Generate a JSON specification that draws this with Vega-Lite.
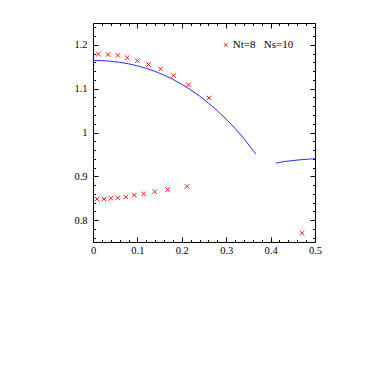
{
  "$schema": "https://vega.github.io/schema/vega-lite/v6.json",
  "width": 222,
  "height": 219,
  "autosize": "none",
  "padding": {"left": 93, "top": 23, "right": 67, "bottom": 140},
  "background": "white",
  "config": {
    "view": {"stroke": "black", "strokeWidth": 1},
    "font": "Liberation Serif",
    "axis": {"title": null, "grid": false, "domain": false, "tickColor": "black", "tickWidth": 1, "labelFlush": false, "labelOverlap": false, "labelFont": "Liberation Serif", "labelFontSize": 10.5, "labelColor": "black"}
  },
  "datasets": {
    "curve": [
      {"x": 0.0, "y": 1.1645, "seg": "a"},
      {"x": 0.02, "y": 1.164, "seg": "a"},
      {"x": 0.04, "y": 1.1627, "seg": "a"},
      {"x": 0.06, "y": 1.1603, "seg": "a"},
      {"x": 0.08, "y": 1.1568, "seg": "a"},
      {"x": 0.10, "y": 1.1522, "seg": "a"},
      {"x": 0.12, "y": 1.1464, "seg": "a"},
      {"x": 0.14, "y": 1.1394, "seg": "a"},
      {"x": 0.16, "y": 1.131, "seg": "a"},
      {"x": 0.18, "y": 1.1213, "seg": "a"},
      {"x": 0.20, "y": 1.1101, "seg": "a"},
      {"x": 0.22, "y": 1.0974, "seg": "a"},
      {"x": 0.24, "y": 1.0832, "seg": "a"},
      {"x": 0.26, "y": 1.0673, "seg": "a"},
      {"x": 0.28, "y": 1.0497, "seg": "a"},
      {"x": 0.30, "y": 1.0304, "seg": "a"},
      {"x": 0.32, "y": 1.0093, "seg": "a"},
      {"x": 0.34, "y": 0.9862, "seg": "a"},
      {"x": 0.3665, "y": 0.951, "seg": "a"},
      {"x": 0.412, "y": 0.930, "seg": "b"},
      {"x": 0.43, "y": 0.9335, "seg": "b"},
      {"x": 0.45, "y": 0.936, "seg": "b"},
      {"x": 0.47, "y": 0.938, "seg": "b"},
      {"x": 0.49, "y": 0.9395, "seg": "b"},
      {"x": 0.5, "y": 0.940, "seg": "b"}
    ],
    "pts": [
      {"x": 0.012, "y": 1.179},
      {"x": 0.034, "y": 1.178},
      {"x": 0.056, "y": 1.176},
      {"x": 0.077, "y": 1.171},
      {"x": 0.100, "y": 1.164},
      {"x": 0.125, "y": 1.155},
      {"x": 0.152, "y": 1.145},
      {"x": 0.181, "y": 1.130},
      {"x": 0.215, "y": 1.109},
      {"x": 0.261, "y": 1.079},
      {"x": 0.009, "y": 0.848},
      {"x": 0.025, "y": 0.848},
      {"x": 0.040, "y": 0.850},
      {"x": 0.056, "y": 0.851},
      {"x": 0.074, "y": 0.853},
      {"x": 0.093, "y": 0.857},
      {"x": 0.114, "y": 0.860},
      {"x": 0.139, "y": 0.865},
      {"x": 0.168, "y": 0.870},
      {"x": 0.212, "y": 0.877},
      {"x": 0.471, "y": 0.770}
    ],
    "key": [
      {"x": 0.299, "y": 1.2, "text": "Nt=8\u00a0\u00a0\u00a0Ns=10"}
    ]
  },
  "layer": [
    {
      "data": {"name": "curve"},
      "mark": {"type": "line", "color": "#1f2fff", "strokeWidth": 1, "clip": true},
      "encoding": {
        "x": {
          "field": "x", "type": "quantitative",
          "scale": {"domain": [0, 0.5], "nice": false, "zero": false},
          "axis": {"orient": "bottom", "values": [0, 0.1, 0.2, 0.3, 0.4, 0.5], "tickSize": -5, "labelPadding": 8, "labelExpr": "format(datum.value, '.1~f')"}
        },
        "y": {
          "field": "y", "type": "quantitative",
          "scale": {"domain": [0.75, 1.25], "nice": false, "zero": false},
          "axis": {"orient": "left", "values": [0.8, 0.9, 1.0, 1.1, 1.2], "tickSize": -5, "labelPadding": 11, "labelExpr": "format(datum.value, '.1~f')"}
        },
        "detail": {"field": "seg", "type": "nominal"}
      }
    },
    {
      "data": {"name": "curve"},
      "mark": {"type": "point", "opacity": 0},
      "encoding": {
        "x": {
          "field": "x", "type": "quantitative",
          "scale": {"domain": [0, 0.5], "nice": false, "zero": false},
          "axis": {"orient": "bottom", "labels": false, "values": [0.02, 0.04, 0.06, 0.08, 0.12, 0.14, 0.16, 0.18, 0.22, 0.24, 0.26, 0.28, 0.32, 0.34, 0.36, 0.38, 0.42, 0.44, 0.46, 0.48], "tickSize": -2.5}
        },
        "y": {
          "field": "y", "type": "quantitative",
          "scale": {"domain": [0.75, 1.25], "nice": false, "zero": false},
          "axis": {"orient": "left", "labels": false, "values": [0.76, 0.78, 0.82, 0.84, 0.86, 0.88, 0.92, 0.94, 0.96, 0.98, 1.02, 1.04, 1.06, 1.08, 1.12, 1.14, 1.16, 1.18, 1.22, 1.24], "tickSize": -2.5}
        }
      }
    },
    {
      "data": {"name": "curve"},
      "mark": {"type": "point", "opacity": 0},
      "encoding": {
        "x": {
          "field": "x", "type": "quantitative",
          "scale": {"domain": [0, 0.5], "nice": false, "zero": false},
          "axis": {"orient": "top", "labels": false, "values": [0.02, 0.04, 0.06, 0.08, 0.12, 0.14, 0.16, 0.18, 0.22, 0.24, 0.26, 0.28, 0.32, 0.34, 0.36, 0.38, 0.42, 0.44, 0.46, 0.48], "tickSize": -2.5}
        },
        "y": {
          "field": "y", "type": "quantitative",
          "scale": {"domain": [0.75, 1.25], "nice": false, "zero": false},
          "axis": {"orient": "right", "labels": false, "values": [0.76, 0.78, 0.82, 0.84, 0.86, 0.88, 0.92, 0.94, 0.96, 0.98, 1.02, 1.04, 1.06, 1.08, 1.12, 1.14, 1.16, 1.18, 1.22, 1.24], "tickSize": -2.5}
        }
      }
    },
    {
      "data": {"name": "pts"},
      "mark": {"type": "point", "shape": "M-1,-1L1,1M-1,1L1,-1", "filled": false, "strokeWidth": 1, "size": 20, "opacity": 1, "color": "#ff1010"},
      "encoding": {
        "x": {
          "field": "x", "type": "quantitative",
          "scale": {"domain": [0, 0.5], "nice": false, "zero": false},
          "axis": {"orient": "top", "labels": false, "values": [0, 0.1, 0.2, 0.3, 0.4, 0.5], "tickSize": -5}
        },
        "y": {
          "field": "y", "type": "quantitative",
          "scale": {"domain": [0.75, 1.25], "nice": false, "zero": false},
          "axis": {"orient": "right", "labels": false, "values": [0.8, 0.9, 1.0, 1.1, 1.2], "tickSize": -5}
        }
      }
    },
    {
      "data": {"name": "key"},
      "mark": {"type": "point", "shape": "M-1,-1L1,1M-1,1L1,-1", "filled": false, "strokeWidth": 1, "size": 12, "opacity": 1, "color": "#ff1010"},
      "encoding": {
        "x": {"field": "x", "type": "quantitative", "scale": {"domain": [0, 0.5], "nice": false, "zero": false}, "axis": null},
        "y": {"field": "y", "type": "quantitative", "scale": {"domain": [0.75, 1.25], "nice": false, "zero": false}, "axis": null}
      }
    },
    {
      "data": {"name": "key"},
      "mark": {"type": "text", "align": "left", "baseline": "middle", "dx": 7, "dy": 0.5, "font": "Liberation Serif", "fontSize": 11, "color": "black"},
      "encoding": {
        "x": {"field": "x", "type": "quantitative", "scale": {"domain": [0, 0.5], "nice": false, "zero": false}, "axis": null},
        "y": {"field": "y", "type": "quantitative", "scale": {"domain": [0.75, 1.25], "nice": false, "zero": false}, "axis": null},
        "text": {"field": "text"}
      }
    }
  ],
  "resolve": {"axis": {"x": "independent", "y": "independent"}}
}
